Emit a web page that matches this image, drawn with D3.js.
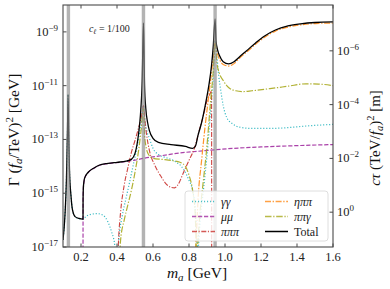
<!DOCTYPE html>
<html>
<head>
<meta charset="utf-8">
<script src="https://cdn.jsdelivr.net/npm/d3@7"></script>
<style>
  body { margin: 0; background: #fff; }
  svg { display: block; font-family: "Liberation Serif", "DejaVu Serif", serif; }
</style>
</head>
<body>
<svg id="chart" width="390" height="289"></svg>
<script>
// masses in GeV, widths as log10(Gamma / GeV) for f_a = 1 TeV
const totalM = [0.100, 0.111, 0.119, 0.125, 0.128, 0.131, 0.136, 0.144, 0.153, 0.167, 0.189, 0.2105,
  0.2112, 0.2115, 0.213, 0.216, 0.22, 0.24, 0.27, 0.30, 0.35, 0.40, 0.45, 0.48, 0.50, 0.52, 0.53, 0.54, 0.547,
  0.553, 0.56, 0.57, 0.58, 0.60, 0.63, 0.70, 0.78, 0.82, 0.835, 0.85, 0.87, 0.89, 0.91, 0.925, 0.935, 0.945,
  0.95, 0.96, 0.97, 0.99, 1.02, 1.05, 1.08, 1.12, 1.17, 1.22, 1.28, 1.35, 1.42, 1.50, 1.60];
const totalG = [-16.74, -15.81, -14.52, -12.67, -11.33, -12.67, -14.15, -15.07, -15.63, -15.87, -15.94, -15.96,
  -15.96, -15.26, -14.81, -14.59, -14.44, -14.22, -14.07, -13.96, -13.89, -13.85, -13.81, -13.74, -13.52, -12.78, -12.11, -10.81, -8.67,
  -11.0, -11.85, -12.37, -12.67, -12.96, -13.11, -13.19, -13.26, -13.33, -13.26, -12.85, -12.37, -11.74, -11.0, -10.26, -9.52, -8.52,
  -9.33, -9.70, -9.89, -10.11, -10.19, -10.11, -9.93, -9.70, -9.41, -9.15, -8.93, -8.78, -8.70, -8.65, -8.63];

const gamgamM = [0.100, 0.111, 0.119, 0.125, 0.128, 0.131, 0.136, 0.144, 0.153, 0.167, 0.189, 0.2105,
  0.23, 0.26, 0.29, 0.32, 0.35, 0.37, 0.385, 0.395, 0.405, 0.41, 0.43, 0.45, 0.47, 0.49, 0.51, 0.525, 0.537, 0.547,
  0.555, 0.565, 0.58, 0.60, 0.63, 0.67, 0.72, 0.77, 0.80, 0.82, 0.835, 0.843, 0.848, 0.853, 0.86, 0.88, 0.90, 0.92, 0.935, 0.945,
  0.955, 0.965, 0.975, 0.99, 1.01, 1.04, 1.08, 1.15, 1.25, 1.35, 1.45, 1.60];
const gamgamG = [-16.74, -15.81, -14.52, -12.67, -11.33, -12.67, -14.15, -15.07, -15.63, -15.87, -15.94, -15.96,
  -15.85, -15.78, -15.76, -15.81, -16.07, -16.44, -16.81, -17.3, -17.2, -16.74, -15.81, -15.19, -14.59, -13.96, -13.33, -12.78, -12.30, -11.74,
  -12.30, -12.67, -12.96, -13.33, -13.56, -13.67, -13.81, -14.11, -14.52, -14.89, -15.63, -16.56, -17.5, -16.93, -16.19, -14.89, -13.59, -11.93, -10.63, -9.33,
  -9.89, -10.63, -11.11, -11.74, -12.19, -12.41, -12.54, -12.59, -12.59, -12.56, -12.50, -12.44];

const mumuM = [0.2112, 0.2115, 0.213, 0.216, 0.22, 0.24, 0.27, 0.30, 0.35, 0.40, 0.45, 0.50, 0.55, 0.65, 0.75,
  0.85, 0.95, 1.05, 1.20, 1.40, 1.60];
const mumuG = [-18, -15.3, -14.82, -14.6, -14.45, -14.23, -14.08, -13.97, -13.9, -13.86, -13.82, -13.77, -13.70, -13.6, -13.5,
  -13.44, -13.38, -13.33, -13.28, -13.23, -13.19];

const pi3M = [0.405, 0.41, 0.42, 0.44, 0.46, 0.48, 0.50, 0.52, 0.537, 0.547,
  0.555, 0.565, 0.58, 0.61, 0.64, 0.67, 0.70, 0.72, 0.74, 0.77, 0.80, 0.83, 0.86, 0.88, 0.90, 0.917, 0.9255, 0.926];
const pi3G = [-17.3, -16.56, -15.70, -14.70, -14.07, -13.48, -13.04, -12.56, -12.11, -11.74,
  -12.30, -12.85, -13.41, -13.96, -14.33, -14.63, -14.78, -14.80, -14.67, -14.22, -13.78, -13.33, -12.59, -12.11, -11.56, -11.3, -11.2, -18];

const etapipiM = [0.835, 0.84, 0.85, 0.87, 0.89, 0.91, 0.925, 0.935, 0.945,
  0.955, 0.97, 0.99, 1.02, 1.05, 1.08, 1.12, 1.17, 1.22, 1.28, 1.35, 1.42, 1.50, 1.60];
const etapipiG = [-17.5, -16.74, -15.26, -13.78, -12.48, -11.37, -10.52, -9.89, -9.33,
  -9.72, -10.03, -10.21, -10.27, -10.18, -9.98, -9.75, -9.46, -9.20, -8.97, -8.82, -8.74, -8.69, -8.67];

const pipigamM = [0.415, 0.42, 0.44, 0.46, 0.48, 0.50, 0.52, 0.535, 0.547,
  0.553, 0.56, 0.575, 0.60, 0.65, 0.70, 0.75, 0.78, 0.80, 0.82, 0.835, 0.842, 0.85, 0.86, 0.88, 0.90, 0.92, 0.935, 0.945,
  0.955, 0.97, 0.99, 1.02, 1.06, 1.10, 1.15, 1.25, 1.35, 1.45, 1.52, 1.60];
const pipigamG = [-17.3, -16.74, -16.0, -15.44, -14.89, -14.22, -13.41, -12.59, -11.85,
  -12.85, -13.22, -13.56, -13.70, -13.74, -13.78, -13.85, -14.0, -14.33, -14.89, -15.81, -17.5, -16.74, -15.81, -14.52, -13.22, -11.56, -10.44, -9.41,
  -10.15, -10.56, -10.81, -11.07, -11.19, -11.22, -11.19, -11.11, -11.02, -10.93, -10.94, -11.0];

const mesonMass = [0.130, 0.547, 0.945];   // pi0, eta, eta' bands
const xTicks = [0.2, 0.4, 0.6, 0.8, 1.0, 1.2, 1.4, 1.6];
const yTickExp = [-17, -15, -13, -11, -9];
const ctauTickExp = [0, -2, -4, -6];
const hbarc = 1.9733e-16; // GeV m

const series = [
  {name: "γγ", m: gamgamM, g: gamgamG, color: "#1fb1bb", dash: "1.1,1.9", w: 1.2},
  {name: "μμ", m: mumuM, g: mumuG, color: "#a12ca0", dash: "4.2,1.8", w: 1.2},
  {name: "πππ", m: pi3M, g: pi3G, color: "#c9302c", dash: "5,1.6,1.1,1.6", w: 1.1},
  {name: "ηππ", m: etapipiM, g: etapipiG, color: "#ff8a17", dash: "6,1.6,1.4,1.6", w: 1.2},
  {name: "ππγ", m: pipigamM, g: pipigamG, color: "#a8a91d", dash: "6.5,1.7,1.3,1.7", w: 1.2},
  {name: "Total", m: totalM, g: totalG, color: "#000", dash: null, w: 1.3}
];

const svg = d3.select("#chart");
const margin = {left: 63, right: 57, top: 5, bottom: 42};
const W = 390, H = 289;
const x0 = margin.left, x1 = W - margin.right, y0 = margin.top, y1 = H - margin.bottom;

const x = d3.scaleLinear().domain([0.1, 1.6]).range([x0, x1]);
const y = d3.scaleLog().domain([1e-17, 1e-8]).range([y1, y0]);
const yR = d3.scaleLog().domain([hbarc / 1e-17, hbarc / 1e-8]).range([y1, y0]);

svg.append("defs").append("clipPath").attr("id", "clip")
  .append("rect").attr("x", x0).attr("y", y0).attr("width", x1 - x0).attr("height", y1 - y0);

const plot = svg.append("g").attr("clip-path", "url(#clip)");

const line = d3.line()
  .x(d => x(d[0]))
  .y(d => y(d[1]))
  .curve(d3.curveMonotoneX);

// draw coloured channels first, total on top
series.forEach(s => {
  const pts = s.m.map((m, i) => [m, Math.pow(10, s.g[i])]);
  plot.append("path")
    .attr("d", line(pts))
    .attr("fill", "none")
    .attr("stroke", s.color)
    .attr("stroke-width", s.w)
    .attr("stroke-dasharray", s.dash)
    .attr("stroke-opacity", s.dash ? 0.9 : 1);
});

// meson resonance bands
plot.selectAll("rect.band").data(mesonMass).enter().append("rect")
  .attr("class", "band")
  .attr("x", d => x(d - 0.0095))
  .attr("width", d => x(d + 0.0095) - x(d - 0.0095))
  .attr("y", y0).attr("height", y1 - y0)
  .attr("fill", "#8a8a8a").attr("fill-opacity", 0.65);

// frame
svg.append("rect").attr("x", x0).attr("y", y0).attr("width", x1 - x0).attr("height", y1 - y0)
  .attr("fill", "none").attr("stroke", "#4a4a4a").attr("stroke-width", 1.1);

const tickCol = "#4a4a4a", tl = 3.5;
// x ticks bottom + top, inward
xTicks.forEach(t => {
  svg.append("line").attr("x1", x(t)).attr("x2", x(t)).attr("y1", y1).attr("y2", y1 - tl).attr("stroke", tickCol);
  svg.append("line").attr("x1", x(t)).attr("x2", x(t)).attr("y1", y0).attr("y2", y0 + tl).attr("stroke", tickCol);
  svg.append("text").attr("x", x(t)).attr("y", y1 + 14).attr("text-anchor", "middle")
    .attr("font-size", 12.5).attr("fill", "#222").text(t.toFixed(1));
});

function powLabel(sel, e) {
  sel.append("tspan").text("10");
  sel.append("tspan").attr("dy", -5).attr("font-size", 9).text(e === 0 ? "0" : "−" + Math.abs(e));
}

yTickExp.forEach(e => {
  const py = y(Math.pow(10, e));
  svg.append("line").attr("x1", x0).attr("x2", x0 + tl).attr("y1", py).attr("y2", py).attr("stroke", tickCol);
  const t = svg.append("text").attr("x", 58).attr("y", py + 4).attr("text-anchor", "end")
    .attr("font-size", 12.5).attr("fill", "#222");
  powLabel(t, e);
});

ctauTickExp.forEach(e => {
  const py = yR(Math.pow(10, e));
  svg.append("line").attr("x1", x1).attr("x2", x1 - tl).attr("y1", py).attr("y2", py).attr("stroke", tickCol);
  const t = svg.append("text").attr("x", 337).attr("y", py + 4).attr("text-anchor", "start")
    .attr("font-size", 12.5).attr("fill", "#222");
  powLabel(t, e);
});

// axis labels
const xl = svg.append("text").attr("x", 197).attr("y", 278).attr("text-anchor", "middle")
  .attr("font-size", 15.5).attr("fill", "#111");
xl.append("tspan").attr("font-style", "italic").text("m");
xl.append("tspan").attr("font-style", "italic").attr("font-size", 11).attr("dy", 3).text("a");
xl.append("tspan").attr("dy", -3).text(" [GeV]");

const ylL = svg.append("text").attr("transform", "translate(19,130) rotate(-90)")
  .attr("text-anchor", "middle").attr("font-size", 15.5).attr("fill", "#111");
ylL.append("tspan").text("Γ (");
ylL.append("tspan").attr("font-style", "italic").text("f");
ylL.append("tspan").attr("font-style", "italic").attr("font-size", 11).attr("dy", 3).text("a");
ylL.append("tspan").attr("dy", -3).text("/TeV)");
ylL.append("tspan").attr("font-size", 11).attr("dy", -6).text("2");
ylL.append("tspan").attr("dy", 6).text(" [GeV]");

const ylR = svg.append("text").attr("transform", "translate(380,138) rotate(-90)")
  .attr("text-anchor", "middle").attr("font-size", 15).attr("fill", "#111");
ylR.append("tspan").attr("font-style", "italic").text("cτ");
ylR.append("tspan").text(" (TeV/");
ylR.append("tspan").attr("font-style", "italic").text("f");
ylR.append("tspan").attr("font-style", "italic").attr("font-size", 10.5).attr("dy", 3).text("a");
ylR.append("tspan").attr("dy", -3).text(")");
ylR.append("tspan").attr("font-size", 10.5).attr("dy", -6).text("2");
ylR.append("tspan").attr("dy", 6).text(" [m]");

// coupling annotation
const ann = svg.append("text").attr("x", 89).attr("y", 32).attr("font-size", 10).attr("fill", "#222");
ann.append("tspan").attr("font-style", "italic").text("c");
ann.append("tspan").attr("font-style", "italic").attr("font-size", 7).attr("dy", 2).text("ℓ");
ann.append("tspan").attr("dy", -2).text(" = 1/100");

// legend
const lg = svg.append("g");
lg.append("rect").attr("x", 185).attr("y", 191).attr("width", 143).attr("height", 50).attr("rx", 3)
  .attr("fill", "#fff").attr("fill-opacity", 0.82).attr("stroke", "#d6d6d6").attr("stroke-width", 0.8);
series.forEach((s, i) => {
  const col = Math.floor(i / 3), row = i % 3;
  const lx = 192 + col * 73, ly = 201.5 + row * 15;
  lg.append("line").attr("x1", lx).attr("x2", lx + 23).attr("y1", ly).attr("y2", ly)
    .attr("stroke", s.color).attr("stroke-width", s.w + 0.2).attr("stroke-dasharray", s.dash)
    .attr("stroke-opacity", s.dash ? 0.8 : 1);
  lg.append("text").attr("x", lx + 29).attr("y", ly + 4).attr("font-size", 12).attr("fill", "#222")
    .attr("font-style", s.name === "Total" ? "normal" : "italic").text(s.name);
});
</script>
</body>
</html>
